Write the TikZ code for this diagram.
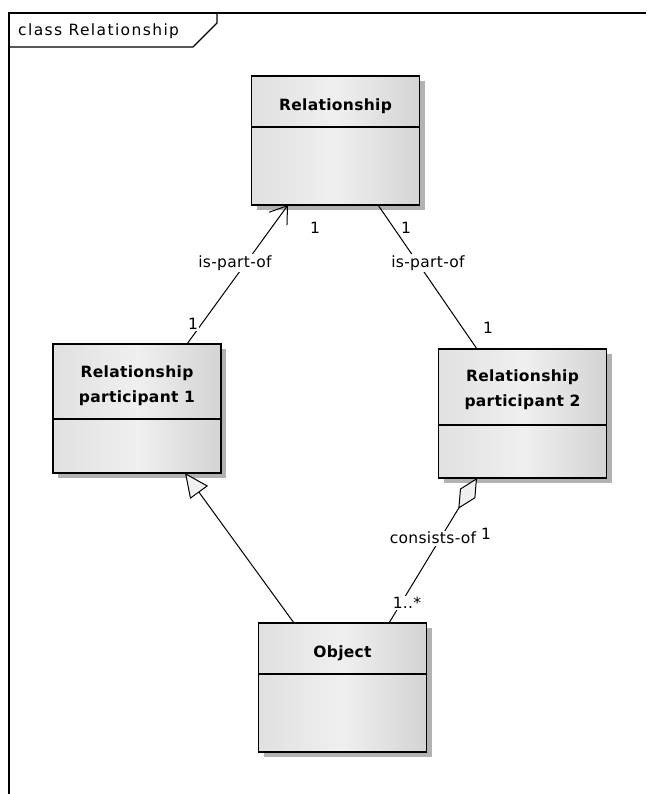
\documentclass[tikz,border=0pt]{standalone}
\usepackage{fontspec}
\setmainfont{DejaVu Sans}
\usetikzlibrary{arrows.meta,shadows}

\begin{document}
\begin{tikzpicture}[x=1pt,y=-1pt,
  classbox/.style={draw=black, line width=1.6pt,
    left color=black!12, right color=black!17, middle color=black!6,
    drop shadow={fill=black!30, opacity=1, shadow xshift=5pt, shadow yshift=-5pt},
    minimum width=168pt, minimum height=129pt, inner sep=0pt, outer sep=0pt},
  classname/.style={font=\fontsize{15.5}{25}\selectfont\bfseries\addfontfeature{LetterSpace=2},
    align=center, inner sep=0pt},
  divider/.style={draw=black, line width=1.4pt},
  conn/.style={draw=black, line width=1pt},
  lbl/.style={font=\fontsize{15.5}{17}\selectfont\addfontfeature{LetterSpace=2},
    fill=white, inner sep=1.5pt},
  frameline/.style={line width=1.8pt}
]
\useasboundingbox (0,0) rectangle (646,794);

% diagram frame and its name tab
\draw[frameline] (9,794) -- (9,13) -- (646,13);
\draw[line width=1.3pt] (9,47) -- (193,47) -- (217,23) -- (217,13);
\node[anchor=west, inner sep=0pt,
  font=\fontsize{15.5}{17}\selectfont\addfontfeature{LetterSpace=9}] (title) at (18,31) {class Relationship};

% classes
\node[classbox] (rel) at (335.5,140.5) {};
\draw[divider] ([yshift=-51pt]rel.north west) -- ([yshift=-51pt]rel.north east);
\node[classname] (relname) at (335.5,106) {Relationship};

\node[classbox] (p1) at (137,408.5) {};
\draw[divider] ([yshift=-75pt]p1.north west) -- ([yshift=-75pt]p1.north east);
\node[classname] (p1name) at (137,385.5) {Relationship\\participant 1};

\node[classbox] (p2) at (522.5,413.5) {};
\draw[divider] ([yshift=-76pt]p2.north west) -- ([yshift=-76pt]p2.north east);
\node[classname] (p2name) at (522.5,390) {Relationship\\participant 2};

\node[classbox] (obj) at (342.5,687.5) {};
\draw[divider] ([yshift=-51pt]obj.north west) -- ([yshift=-51pt]obj.north east);
\node[classname] (objname) at (342.5,653) {Object};

% associations
\draw[conn, -{Straight Barb[length=16pt,width=22pt]}]
  ([xshift=50pt]p1.north) -- ([xshift=-47.5pt]rel.south);
\draw[conn] ([xshift=42.5pt]rel.south) -- ([xshift=-45.5pt]p2.north);
% generalization
\draw[conn, -{Triangle[length=24pt,width=22pt,fill=black!6]}]
  ([xshift=-48.5pt]obj.north) -- ([xshift=48pt]p1.south);
% aggregation
\draw[conn, -{Diamond[length=36pt,width=18pt,fill=black!6]}]
  ([xshift=46.5pt]obj.north) -- ([xshift=-45.5pt]p2.south);

% association names and multiplicities
\node[lbl] (l1) at (235,263) {is-part-of};
\node[lbl] (m1a) at (315,228) {1};
\node[lbl] (m1b) at (193,324) {1};
\node[lbl] (l2) at (428,263) {is-part-of};
\node[lbl] (m2a) at (406,228) {1};
\node[lbl] (m2b) at (488,328) {1};
\node[lbl] (l3) at (433,538) {consists-of};
\node[lbl] (m3a) at (486,534) {1};
\node[lbl] (m3b) at (407,603) {1..*};
\end{tikzpicture}
\end{document}
